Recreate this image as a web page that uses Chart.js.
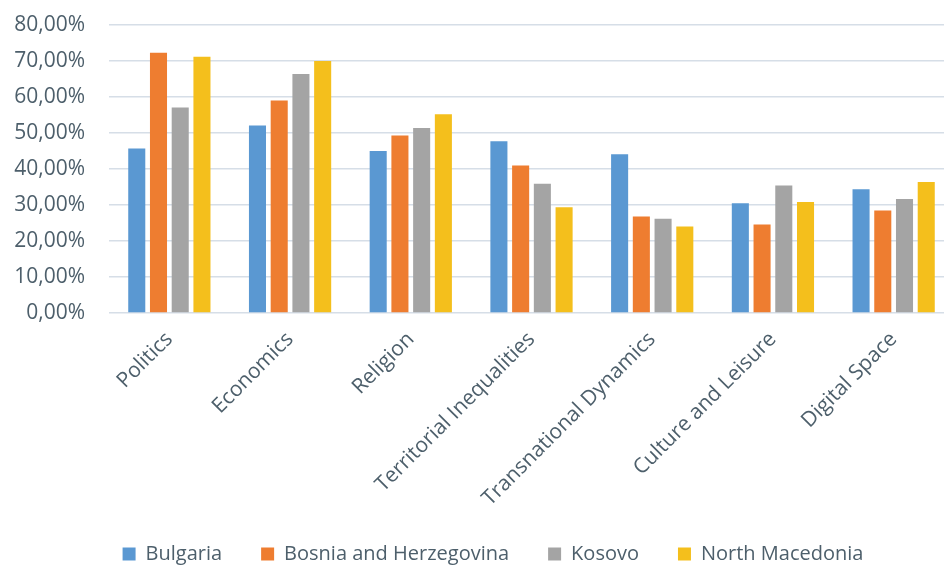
<!DOCTYPE html>
<html>
<head>
<meta charset="utf-8">
<script src="https://cdn.jsdelivr.net/npm/chart.js@4"></script>
<style>
  html, body { margin: 0; padding: 0; background: #ffffff; overflow: hidden; }
  #wrap { position: relative; width: 954px; height: 566px; }
</style>
</head>
<body>
<div id="wrap"><canvas id="chart"></canvas></div>
<script>
// Share of respondents per topic, by country (percent)
const categories = [
  'Politics', 'Economics', 'Religion', 'Territorial Inequalities',
  'Transnational Dynamics', 'Culture and Leisure', 'Digital Space'
];
const seriesNames = ['Bulgaria', 'Bosnia and Herzegovina', 'Kosovo', 'North Macedonia'];
const bulgaria       = [45.7, 52.1, 45.0, 47.7, 44.1, 30.5, 34.4];
const bosnia         = [72.3, 59.0, 49.3, 41.0, 26.8, 24.6, 28.5];
const kosovo         = [57.1, 66.4, 51.4, 35.9, 26.2, 35.4, 31.7];
const northMacedonia = [71.2, 70.0, 55.2, 29.4, 24.0, 30.8, 36.4];
const yTicks = [0, 10, 20, 30, 40, 50, 60, 70, 80];

const seriesValues = [bulgaria, bosnia, kosovo, northMacedonia];
const seriesColors = ['#5a98d2', '#ee7d30', '#a4a4a4', '#f4bf1c'];
const textColor = '#4d5f6b';
const fontFamily = '"Open Sans", "Noto Sans", sans-serif';

const datasets = seriesNames.map((name, i) => ({
  label: name,
  data: seriesValues[i],
  backgroundColor: seriesColors[i],
  borderWidth: 0,
  categoryPercentage: 0.72,
  barPercentage: 0.785
}));

// Nudge the legend row a little to the right of the canvas centre.
const legendOffset = {
  id: 'legendOffset',
  afterLayout(chart) {
    if (chart.legend) {
      chart.legend.left += 16;
      chart.legend.right += 16;
    }
  }
};

new Chart(document.getElementById('chart'), {
  type: 'bar',
  data: { labels: categories, datasets },
  plugins: [legendOffset],
  options: {
    responsive: true,
    maintainAspectRatio: false,
    animation: false,
    layout: { padding: { left: 0, top: 25, right: 0, bottom: -8 } },
    plugins: {
      tooltip: { enabled: false },
      legend: {
        position: 'bottom',
        align: 'center',
        labels: {
          boxWidth: 13,
          boxHeight: 13,
          padding: 39,
          color: textColor,
          font: { family: fontFamily, size: 20 }
        }
      }
    },
    scales: {
      x: {
        grid: { display: false, drawTicks: false },
        border: { display: false },
        ticks: {
          color: textColor,
          font: { family: fontFamily, size: 21 },
          minRotation: 45,
          maxRotation: 45,
          autoSkip: false,
          padding: 14
        },
        afterFit: (scale) => { scale.height = 192; }
      },
      y: {
        min: 0,
        max: 80,
        afterBuildTicks: (scale) => { scale.ticks = yTicks.map(v => ({ value: v })); },
        grid: { color: '#d6dee7', lineWidth: 1.5, drawTicks: false },
        border: { display: false },
        ticks: {
          color: textColor,
          font: { family: fontFamily, size: 21 },
          padding: 24,
          callback: (v) => v.toFixed(2).replace('.', ',') + '%'
        },
        afterFit: (scale) => {
          scale.width = 109;
          scale.paddingTop = 0;
          scale.paddingBottom = 0;
        }
      }
    }
  }
});
</script>
</body>
</html>
